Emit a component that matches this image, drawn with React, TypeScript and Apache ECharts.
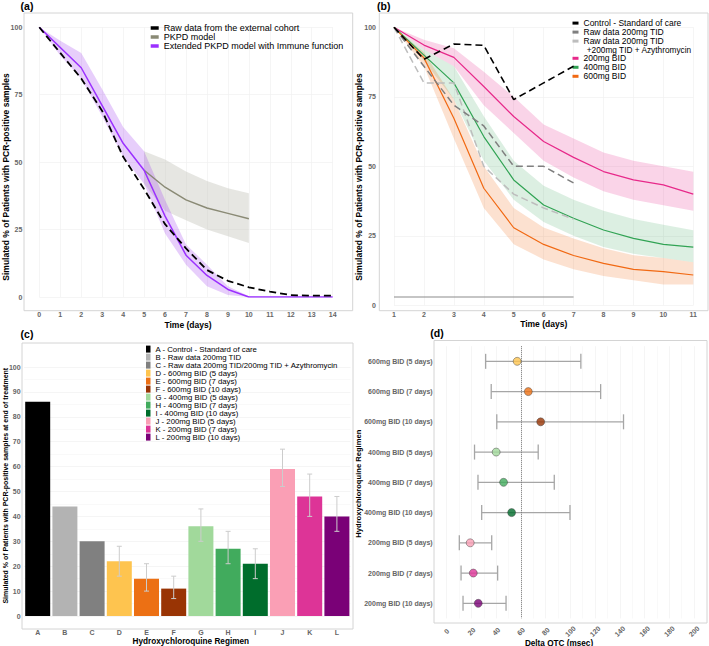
import React, { useEffect, useRef } from "react";
import * as echarts from "echarts";

const FONT = "'Liberation Sans', Arial, Helvetica, sans-serif";

// ---------- Panel (a) ----------
const daysA = [0, 1, 2, 3, 4, 5, 6, 7, 8, 9, 10, 11, 12, 13, 14];
const rawCohortA = [100, 90.5, 81, 69, 52, 40, 27, 18, 10, 6, 3.6, 2, 0.7, 0.5, 0.5];
const extendedA = [100, 92.5, 85, 71, 57, 47, 30, 15.5, 8, 2.8, 0, 0, 0, 0, 0];
const extendedLowA = [100, 89.5, 81, 67, 52, 42, 23.5, 12, 4, 0.7, 0, 0, 0, 0, 0];
const extendedHighA = [100, 95, 90.5, 77, 63, 54, 36, 19.5, 12, 4, 0.3, 0, 0, 0, 0];
const pkpdDaysA = [5, 6, 7, 8, 9, 10];
const pkpdA = [47, 40.7, 36, 33, 31, 29];
const pkpdLowA = [42, 32, 28.5, 25, 22.5, 20];
const pkpdHighA = [54, 51, 46.5, 43, 40.3, 38.5];

// ---------- Panel (b) ----------
const daysB = [1, 2, 3, 4, 5, 6, 7, 8, 9, 10, 11];
const bid200B = [100, 93.6, 89.2, 78.7, 67.9, 58.9, 53.2, 48.1, 45.1, 43.3, 40];
const bid200LowB = [100, 92, 86, 72, 62, 52, 46, 41, 38, 36, 34];
const bid200HighB = [100, 95.5, 92.5, 84, 75, 65, 60, 55, 52, 50, 48];
const bid400B = [100, 90, 80, 60.7, 45.1, 36.1, 31.3, 27.1, 24.1, 21.9, 20.9];
const bid400LowB = [100, 88, 74, 52, 38, 30, 25, 21, 18.5, 17, 15.5];
const bid400HighB = [100, 92, 86, 68, 52, 43, 38, 34, 31, 29, 27];
const bid600B = [100, 89, 67.3, 42.1, 27.9, 21.9, 17.9, 15.1, 12.9, 12.1, 10.9];
const bid600LowB = [100, 86, 60, 35, 22, 16.5, 13, 10.5, 9, 7.5, 7.5];
const bid600HighB = [100, 91, 74, 50, 35, 28, 24, 20.5, 18, 17, 15.5];
const rawDaysB = [1, 2, 3, 4, 5, 6, 7];
const controlB = [100, 88.5, 94, 93.5, 74, 80, 86];
const raw200B = [100, 86, 72, 64.5, 50, 50, 44];
const raw200AzyB = [100, 80, 80, 50, 40, 35, 31];
const baselineDaysB = [1, 7];
const baselineB = [3, 3];

// ---------- Panel (c) ----------
const regimenLetters = ["A", "B", "C", "D", "E", "F", "G", "H", "I", "J", "K", "L"];
const regimenNames = [
  "A - Control - Standard of care",
  "B - Raw data 200mg TID",
  "C - Raw data 200mg TID/200mg TID + Azythromycin",
  "D - 600mg BID (5 days)",
  "E - 600mg BID (7 days)",
  "F - 600mg BID (10 days)",
  "G - 400mg BID (5 days)",
  "H - 400mg BID (7 days)",
  "I - 400mg BID (10 days)",
  "J - 200mg BID (5 days)",
  "K - 200mg BID (7 days)",
  "L - 200mg BID (10 days)",
];
const regimenColors = [
  "#000000", "#b3b3b3", "#808080",
  "#fec44f", "#ec7014", "#993404",
  "#a1d99b", "#41ab5d", "#006d2c",
  "#fa9fb5", "#dd3497", "#7a0177",
];
const endPositive = [86, 44, 30, 22, 15, 11, 36, 27, 21, 59, 48, 40];
const endLow = [null, null, null, 16, 10, 7, 30, 21, 15, 52, 40, 34];
const endHigh = [null, null, null, 28, 21, 16, 43, 34, 27, 67, 57, 48];

// ---------- Panel (d) ----------
const qtcRegimens = [
  "600mg BID (5 days)",
  "600mg BID (7 days)",
  "600mg BID (10 days)",
  "400mg BID (5 days)",
  "400mg BID (7 days)",
  "400mg BID (10 days)",
  "200mg BID (5 days)",
  "200mg BID (7 days)",
  "200mg BID (10 days)",
];
const qtcMedian = [57, 66, 76, 40, 46, 52.5, 19, 21.5, 25.5];
const qtcLow = [31.5, 36, 40.5, 22.5, 25.3, 28.3, 10.2, 11.6, 13.2];
const qtcHigh = [108.5, 124.5, 143, 74, 87, 99.7, 36.4, 41.2, 48];
const qtcColors = regimenColors.slice(3);
const qtcReference = 60;

const pairs = (xs: number[], ys: number[]) => xs.map((x, i) => [x, ys[i]]);

const tickLabel = { fontSize: 7, fontWeight: "bold", color: "#666", fontFamily: FONT };
const gridLine = { show: true, lineStyle: { color: "#f0f0f0", width: 0.7 } };

// ribbon drawn as one polygon through the axes' own scales
function band(name: string, xs: number[], lo: number[], hi: number[], color: string, xi: number) {
  return {
    type: "custom", name, xAxisIndex: xi, yAxisIndex: xi, z: 1, silent: true,
    data: xs.map((x, i) => [x, lo[i], hi[i]]),
    encode: { x: 0, y: [1, 2] },
    renderItem: (params: any, api: any) => {
      if (params.dataIndexInside !== 0) return null;
      const n = params.dataInsideLength;
      const upper: number[][] = [];
      const lower: number[][] = [];
      for (let j = 0; j < n; j++) {
        const x = api.value(0, j);
        upper.push(api.coord([x, api.value(2, j)]));
        lower.push(api.coord([x, api.value(1, j)]));
      }
      return {
        type: "polygon",
        shape: { points: upper.concat(lower.reverse()) },
        style: { fill: color, stroke: "none" },
      };
    },
  };
}

function buildOption() {
  const series: any[] = [];
  // (a)
  series.push(band("pkpdA", pkpdDaysA, pkpdLowA, pkpdHighA, "rgba(200,200,190,0.45)", 0));
  series.push(band("extA", daysA, extendedLowA, extendedHighA, "rgba(160,60,240,0.25)", 0));
  series.push({
    type: "line", name: "PKPD model", xAxisIndex: 0, yAxisIndex: 0, color: "#8a8a75",
    data: pairs(pkpdDaysA, pkpdA), symbol: "none", lineStyle: { width: 1.5, color: "#8a8a75" }, z: 3,
  });
  series.push({
    type: "line", name: "Extended PKPD model with Immune function", xAxisIndex: 0, yAxisIndex: 0, color: "#9b30ff",
    data: pairs(daysA, extendedA), symbol: "none", lineStyle: { width: 1.5, color: "#9b30ff" }, z: 3,
  });
  series.push({
    type: "line", name: "Raw data from the external cohort", xAxisIndex: 0, yAxisIndex: 0, color: "#000",
    data: pairs(daysA, rawCohortA), symbol: "none", lineStyle: { width: 1.8, color: "#000", type: [7, 4] }, z: 4,
  });

  // (b)
  series.push(band("b200", daysB, bid200LowB, bid200HighB, "rgba(231,41,138,0.2)", 1));
  series.push(band("b400", daysB, bid400LowB, bid400HighB, "rgba(49,163,84,0.17)", 1));
  series.push(band("b600", daysB, bid600LowB, bid600HighB, "rgba(241,105,19,0.2)", 1));
  series.push({
    type: "line", name: "200mg BID", xAxisIndex: 1, yAxisIndex: 1, color: "#e7298a",
    data: pairs(daysB, bid200B), symbol: "none", lineStyle: { width: 1.2, color: "#e7298a" }, z: 3,
  });
  series.push({
    type: "line", name: "400mg BID", xAxisIndex: 1, yAxisIndex: 1, color: "#31a354",
    data: pairs(daysB, bid400B), symbol: "none", lineStyle: { width: 1.2, color: "#31a354" }, z: 3,
  });
  series.push({
    type: "line", name: "600mg BID", xAxisIndex: 1, yAxisIndex: 1, color: "#f16913",
    data: pairs(daysB, bid600B), symbol: "none", lineStyle: { width: 1.2, color: "#f16913" }, z: 3,
  });
  series.push({
    type: "line", name: "Raw data 200mg TID +200mg TID + Azythromycin", xAxisIndex: 1, yAxisIndex: 1, color: "#bdbdbd",
    data: pairs(rawDaysB, raw200AzyB), symbol: "none", lineStyle: { width: 1.5, color: "#bdbdbd", type: [7, 4] }, z: 4,
  });
  series.push({
    type: "line", name: "Raw data 200mg TID", xAxisIndex: 1, yAxisIndex: 1, color: "#7f7f7f",
    data: pairs(rawDaysB, raw200B), symbol: "none", lineStyle: { width: 1.5, color: "#7f7f7f", type: [7, 4] }, z: 4,
  });
  series.push({
    type: "line", name: "Control - Standard of care", xAxisIndex: 1, yAxisIndex: 1, color: "#000",
    data: pairs(rawDaysB, controlB), symbol: "none", lineStyle: { width: 1.6, color: "#000", type: [7, 4] }, z: 5,
  });
  series.push({
    type: "line", name: "baseline", xAxisIndex: 1, yAxisIndex: 1, color: "#8c8c8c",
    data: pairs(baselineDaysB, baselineB), symbol: "none", lineStyle: { width: 1.1, color: "#8c8c8c" }, z: 3,
  });

  // (c)
  regimenNames.forEach((name, i) => {
    series.push({
      type: "bar", name, xAxisIndex: 2, yAxisIndex: 2, color: regimenColors[i],
      data: regimenLetters.map((_, j) => (j === i ? endPositive[i] : "-")),
      barWidth: 25, barGap: "-100%", itemStyle: { color: regimenColors[i] },
    });
  });
  const errC = endLow
    .map((lo, i) => (lo == null ? null : [i, lo, endHigh[i]]))
    .filter((d) => d != null);
  series.push({
    type: "custom", name: "errC", xAxisIndex: 2, yAxisIndex: 2, z: 5, silent: true,
    data: errC,
    encode: { x: 0, y: [1, 2] },
    renderItem: (_p: any, api: any) => {
      const x = api.value(0);
      const lo = api.coord([x, api.value(1)]);
      const hi = api.coord([x, api.value(2)]);
      const c = 2.5;
      const st = { stroke: "#cccccc", lineWidth: 1 };
      return {
        type: "group",
        children: [
          { type: "line", shape: { x1: lo[0], y1: lo[1], x2: hi[0], y2: hi[1] }, style: st },
          { type: "line", shape: { x1: lo[0] - c, y1: lo[1], x2: lo[0] + c, y2: lo[1] }, style: st },
          { type: "line", shape: { x1: hi[0] - c, y1: hi[1], x2: hi[0] + c, y2: hi[1] }, style: st },
        ],
      };
    },
  });

  // (d)
  series.push({
    type: "custom", name: "errD", xAxisIndex: 3, yAxisIndex: 3, z: 3, silent: true,
    data: qtcRegimens.map((_, i) => [qtcLow[i], qtcHigh[i], i]),
    encode: { x: [0, 1], y: 2 },
    renderItem: (_p: any, api: any) => {
      const idx = api.value(2);
      const lo = api.coord([api.value(0), idx]);
      const hi = api.coord([api.value(1), idx]);
      const c = 7.5;
      const st = { stroke: "#a6a6a6", lineWidth: 1.3 };
      return {
        type: "group",
        children: [
          { type: "line", shape: { x1: lo[0], y1: lo[1], x2: hi[0], y2: hi[1] }, style: st },
          { type: "line", shape: { x1: lo[0], y1: lo[1] - c, x2: lo[0], y2: lo[1] + c }, style: st },
          { type: "line", shape: { x1: hi[0], y1: hi[1] - c, x2: hi[0], y2: hi[1] + c }, style: st },
        ],
      };
    },
  });
  series.push({
    type: "scatter", name: "qtc", xAxisIndex: 3, yAxisIndex: 3, z: 4,
    symbolSize: 8,
    data: qtcRegimens.map((_, i) => ({
      value: [qtcMedian[i], i],
      itemStyle: { color: qtcColors[i], borderColor: "rgba(60,60,60,0.8)", borderWidth: 0.7 },
    })),
    markLine: {
      silent: true, symbol: "none", label: { show: false },
      lineStyle: { type: "dotted", color: "#777", width: 1 },
      data: [{ xAxis: qtcReference }],
    },
  });

  const frame = (x: number, y: number, w: number, h: number) => ({
    type: "rect", shape: { x, y, width: w, height: h }, silent: true, z: -10,
    style: { fill: "none", stroke: "#d4d4d4", lineWidth: 1 },
  });
  const txt = (text: string, x: number, y: number, size: number, rot = 0) => ({
    type: "text", x, y, rotation: rot, silent: true, z: 10,
    style: {
      text, fill: "#000", fontSize: size, fontWeight: "bold", fontFamily: FONT,
      align: "center", verticalAlign: "middle",
    },
  });

  return {
    animation: false,
    backgroundColor: "#fff",
    textStyle: { fontFamily: FONT },
    grid: [
      { left: 39.3, top: 27.3, width: 293.4, height: 269.7 },
      { left: 394, top: 27.3, width: 299.3, height: 278 },
      { left: 24.1, top: 367, width: 326.4, height: 249 },
      { left: 446.7, top: 346.2, width: 247.3, height: 272.25 },
    ],
    xAxis: [
      {
        gridIndex: 0, type: "value", min: 0, max: 14, interval: 1,
        axisLine: { show: false }, axisTick: { show: false }, splitLine: gridLine,
        axisLabel: { ...tickLabel, margin: 14 },
      },
      {
        gridIndex: 1, type: "value", min: 1, max: 11, interval: 1,
        axisLine: { show: false }, axisTick: { show: false }, splitLine: gridLine,
        axisLabel: { ...tickLabel, margin: 6 },
      },
      {
        gridIndex: 2, type: "category", data: regimenLetters, boundaryGap: true,
        axisLine: { show: false }, axisTick: { show: false }, splitLine: { show: false },
        axisLabel: { ...tickLabel, margin: 13 },
      },
      {
        gridIndex: 3, type: "value", min: 0, max: 200, interval: 20,
        axisLine: { show: false }, axisTick: { show: false }, splitLine: gridLine,
        minorTick: { show: false, splitNumber: 2 },
        minorSplitLine: { show: true, lineStyle: { color: "#f5f5f5", width: 0.6 } },
        axisLabel: { ...tickLabel, rotate: 45, align: "center", verticalAlign: "middle", margin: 13 },
      },
    ],
    yAxis: [
      {
        gridIndex: 0, type: "value", min: 0, max: 100, interval: 25,
        axisLine: { show: false }, axisTick: { show: false }, splitLine: gridLine,
        axisLabel: { ...tickLabel, margin: 17 },
      },
      {
        gridIndex: 1, type: "value", min: 0, max: 100, interval: 25,
        axisLine: { show: false }, axisTick: { show: false }, splitLine: gridLine,
        axisLabel: { ...tickLabel, margin: 18 },
      },
      {
        gridIndex: 2, type: "value", min: 0, max: 100, interval: 10,
        axisLine: { show: false }, axisTick: { show: false }, splitLine: gridLine,
        minorTick: { show: false, splitNumber: 2 },
        minorSplitLine: { show: true, lineStyle: { color: "#f5f5f5", width: 0.6 } },
        axisLabel: { ...tickLabel, margin: 3.5 },
      },
      {
        gridIndex: 3, type: "category", data: qtcRegimens, inverse: true, boundaryGap: true,
        axisLine: { show: false }, axisTick: { show: false }, splitLine: { show: false },
        axisLabel: { ...tickLabel, margin: 14 },
      },
    ],
    legend: [
      {
        data: ["Raw data from the external cohort", "PKPD model", "Extended PKPD model with Immune function"],
        orient: "vertical", left: 150.7, top: 23.5, padding: 0, itemGap: 0,
        itemWidth: 8, itemHeight: 3.5, icon: "rect", selectedMode: false,
        itemStyle: { borderWidth: 0 },
        textStyle: { fontSize: 9, lineHeight: 9, color: "#000", fontFamily: FONT },
      },
      {
        data: ["Control - Standard of care", "Raw data 200mg TID", "Raw data 200mg TID +200mg TID + Azythromycin"],
        formatter: (n: string) => (n.indexOf("Azythromycin") >= 0 ? "Raw data 200mg TID" : n),
        orient: "vertical", left: 572.5, top: 18.6, padding: 0, itemGap: 0,
        itemWidth: 6, itemHeight: 3, icon: "rect", selectedMode: false,
        itemStyle: { borderWidth: 0 },
        textStyle: { fontSize: 8.5, lineHeight: 8.8, color: "#000", fontFamily: FONT },
      },
      {
        data: ["200mg BID", "400mg BID", "600mg BID"],
        orient: "vertical", left: 572.5, top: 53.8, padding: 0, itemGap: 0,
        itemWidth: 6, itemHeight: 3, icon: "rect", selectedMode: false,
        itemStyle: { borderWidth: 0 },
        textStyle: { fontSize: 8.5, lineHeight: 8.8, color: "#000", fontFamily: FONT },
      },
      {
        data: regimenNames,
        orient: "vertical", left: 146, top: 345.1, padding: 0, itemGap: 0,
        itemWidth: 4.5, itemHeight: 7, icon: "rect", selectedMode: false,
        itemStyle: { borderWidth: 0 },
        textStyle: { fontSize: 7.8, lineHeight: 7.8, color: "#000", fontFamily: FONT },
      },
    ],
    graphic: [
      frame(24, 13, 328.7, 297.7),
      frame(379.3, 13, 328.7, 297.7),
      frame(22, 343, 331, 286),
      frame(434, 340.5, 273, 282.5),
      txt("(a)", 27, 6, 10.5),
      txt("(b)", 383.7, 6, 10.5),
      txt("(c)", 27, 333.7, 10.5),
      txt("(d)", 437, 333.3, 10.5),
      txt("Time (days)", 188, 325, 8.5),
      txt("Time (days)", 543.7, 324, 8.5),
      txt("Simulated % of Patients with PCR-positive samples", 5.5, 177, 8.5, Math.PI / 2),
      txt("Simulated % of Patients with PCR-positive samples", 358.7, 177, 8.5, Math.PI / 2),
      txt("Simulated % of Patients with PCR-positive samples at end of treatment", 5, 485.7, 7, Math.PI / 2),
      txt("Hydroxychloroquine Regimen", 190.8, 641, 8.2),
      txt("Hydroxychloroquine Regimen", 358.7, 483.7, 7.6, Math.PI / 2),
      txt("Delta QTC (msec)", 559, 643, 8.2),
      {
        type: "text", x: 586.7, y: 49.6, silent: true, z: 10,
        style: {
          text: "+200mg TID + Azythromycin", fill: "#000", fontSize: 8.3, lineHeight: 8.6,
          fontFamily: FONT, align: "left", verticalAlign: "middle",
        },
      },
    ],
    series,
  };
}

export default function App() {
  const ref = useRef<HTMLDivElement>(null);
  useEffect(() => {
    if (!ref.current) return;
    const chart = echarts.init(ref.current, null, { renderer: "svg" });
    chart.setOption(buildOption() as any);
    return () => chart.dispose();
  }, []);
  return (
    <div
      ref={ref}
      style={{ position: "absolute", left: 0, top: 0, width: 709, height: 646, background: "#fff" }}
    />
  );
}
